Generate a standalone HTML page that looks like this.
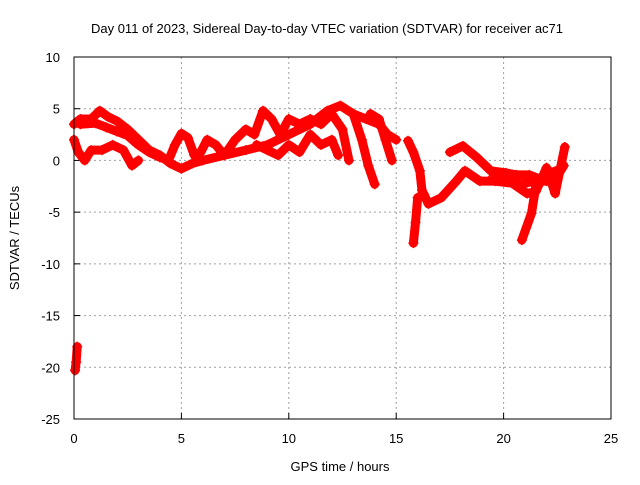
<!DOCTYPE html>
<html><head><meta charset="utf-8"><style>
body{margin:0;background:#fff}
svg text{font-family:"Liberation Sans",Arial,sans-serif;font-size:13px;fill:#000}
</style></head><body>
<svg id="chart" width="640" height="480" viewBox="0 0 640 480" xmlns="http://www.w3.org/2000/svg">
<rect width="640" height="480" fill="#fff"/>
<text x="327" y="33" text-anchor="middle">Day 011 of 2023, Sidereal Day-to-day VTEC variation (SDTVAR) for receiver ac71</text>
<text transform="translate(19,238) rotate(-90)" text-anchor="middle">SDTVAR / TECUs</text>
<text x="340" y="471" text-anchor="middle">GPS time / hours</text>
<g id="grid"></g>
<g id="ticks"></g>
<g id="series"></g>
<rect x="74" y="57" width="537" height="362" fill="none" stroke="#000" stroke-width="1"/>
</svg>
<script>
const xTicks=[0,5,10,15,20,25];
const yTicks=[10,5,0,-5,-10,-15,-20,-25];
const trackA=[[0,3.5],[0.3,4],[0.8,4],[1.2,4.8],[1.6,4.2],[2,3.8],[2.5,3],[3,2],[3.5,1],[4,0.5],[4.5,-0.3],[5,-0.8],[5.5,-0.3],[6,0],[7,0.5],[8,1],[9,1.5],[10,2.5],[11,3.5],[11.8,4.8],[12.4,5.3],[13,4.5],[13.6,4],[14.2,3.5],[14.6,2.5],[15,2]];
const trackB=[[0,2],[0.2,0.8],[0.5,0],[0.8,1],[1.3,1],[1.8,1.5],[2.3,1],[2.7,-0.5],[3,0]];
const trackC=[[0.3,3.5],[1,3.6],[1.5,3.2],[2,2.8],[2.5,2.4],[3,1.5],[3.5,0.8],[4,0.3],[4.4,0],[4.7,1.5],[5,2.6],[5.3,2.2],[5.6,0.5],[5.9,0.8],[6.2,2],[6.6,1.5],[7,0.5],[7.5,2],[8,3],[8.4,2.5],[8.8,4.8],[9.2,4],[9.6,2.5],[10,4],[10.5,3.5],[11,4],[11.5,3.5],[12,4.5],[12.5,3],[12.8,0]];
const trackD=[[8.5,1.5],[9,1],[9.5,0.5],[10,1.5],[10.5,0.8],[11,2.5],[11.5,1.5],[12,2],[12.3,0.5]];
const trackE=[[13,4.5],[13.4,2],[13.7,-0.5],[14,-2.3]];
const trackF=[[13.8,4.5],[14.2,4],[14.5,2],[14.8,0]];
const trackG=[[15.55,1.9],[15.8,0.8],[16.1,-1],[16.2,-2.9],[16.5,-4.2],[17.1,-3.6],[17.8,-2],[18.2,-1],[18.9,-2],[19.6,-2],[20.4,-2.2],[21.1,-3.2],[21.5,-3],[22,-0.7],[22.4,-3.2],[22.85,1.3]];
const trackH=[[15.8,-8],[15.9,-6],[16,-3.6],[16.3,-3.3]];
const trackI=[[17.5,0.8],[18.1,1.4],[18.75,0.3],[19.4,-1],[20.1,-1.2],[20.6,-1.4],[21.2,-1.4],[21.7,-1.8],[22.2,-1.2],[22.7,-0.8]];
const trackJ=[[20.85,-7.7],[21.3,-5.1],[21.5,-2.5],[21.8,-2]];
const trackK=[[0.05,-20.3],[0.1,-19.5],[0.15,-18]];
const trackL=[[19.5,-1.6],[20.2,-1.8],[20.8,-2.3],[21.4,-2],[22,-2],[22.5,-1.5],[22.8,-0.5]];
const tracks=[trackA,trackB,trackC,trackD,trackE,trackF,trackG,trackH,trackI,trackJ,trackK,trackL];
const NS='http://www.w3.org/2000/svg';
const X=t=>74+(t-0)*(537/25);
const Y=v=>57+(10-v)*(362/35);
const grid=document.getElementById('grid'),ticks=document.getElementById('ticks'),ser=document.getElementById('series');
function mk(tag,attrs,parent){const e=document.createElementNS(NS,tag);for(const k in attrs)e.setAttribute(k,attrs[k]);parent.appendChild(e);return e;}
xTicks.forEach(t=>{
 if(t>0&&t<25){const g=mk('line',{x1:X(t),x2:X(t),y1:57,y2:419,stroke:'#a0a0a0','stroke-dasharray':'2,3'},grid);
 }
 const l=mk('line',{x1:X(t),x2:X(t),y1:419,y2:413,stroke:'#000'},ticks);
 
 const tx=mk('text',{x:X(t),y:443,'text-anchor':'middle'},ticks);tx.textContent=t;
 
});
yTicks.forEach(v=>{
 if(v<10&&v>-25){const g=mk('line',{x1:74,x2:611,y1:Y(v),y2:Y(v),stroke:'#a0a0a0','stroke-dasharray':'2,3'},grid);
 }
 const l=mk('line',{x1:74,x2:80,y1:Y(v),y2:Y(v),stroke:'#000'},ticks);
 
 const tx=mk('text',{x:60,y:Y(v)+5,'text-anchor':'end'},ticks);tx.textContent=v;
 
});
tracks.forEach(tr=>{
 const p=mk('polyline',{points:tr.map(d=>X(d[0])+','+Y(d[1])).join(' '),fill:'none',stroke:'#ff0000','stroke-width':9,'stroke-linejoin':'round','stroke-linecap':'round'},ser);
 
 tr.forEach(d=>{
  const m=mk('path',{d:`M${X(d[0])-5},${Y(d[1])}h10M${X(d[0])},${Y(d[1])-5}v10`,stroke:'#ff0000','stroke-width':1.5},ser);
  
 });
});
</script>
</body></html>
